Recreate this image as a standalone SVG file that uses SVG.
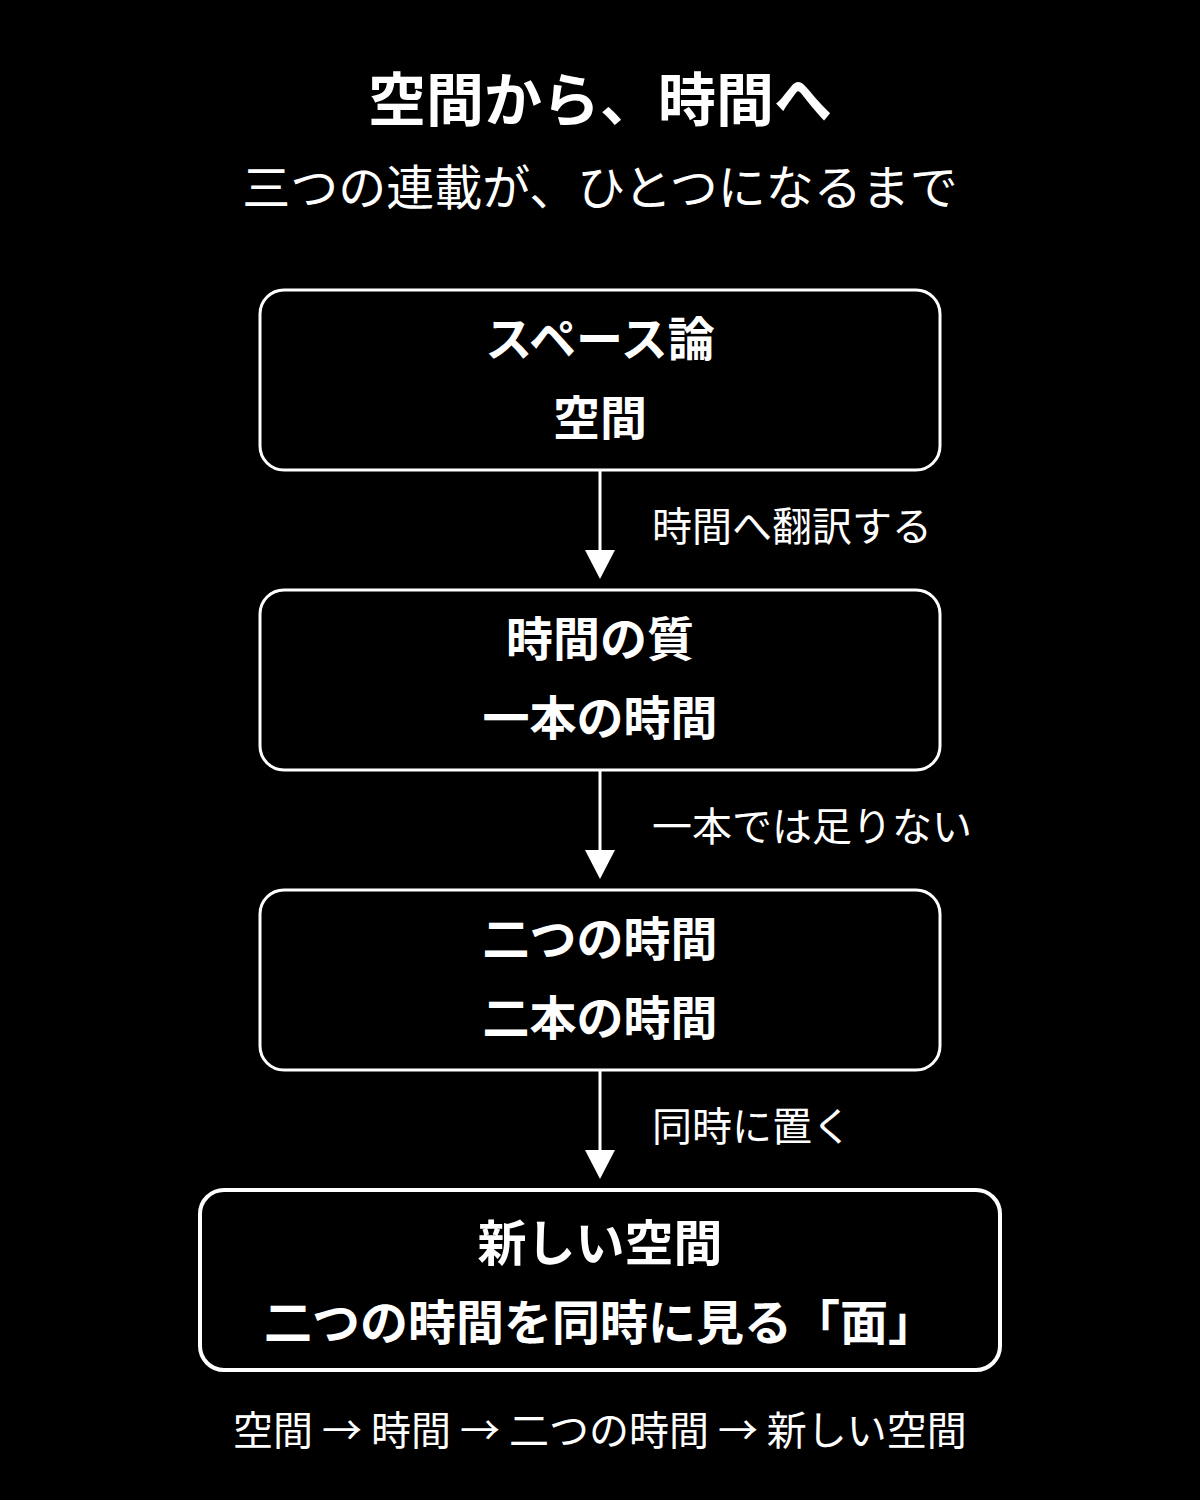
<svg xmlns="http://www.w3.org/2000/svg" width="1200" height="1500" viewBox="0 0 1200 1500">
<defs>
<style>
text{font-family:"Noto Sans CJK JP","Noto Sans CJK SC",sans-serif;fill:#fff;text-anchor:middle}
.t{font-size:58px;font-weight:700}
.s{font-size:48px;font-weight:400}
.n{font-size:47px;font-weight:700}
.nb{font-size:49px;font-weight:700}
.nb2{font-size:48px;font-weight:700}
.l{font-size:40px;font-weight:400;text-anchor:start}
.f{font-size:40px;font-weight:400}
.box{fill:#000;stroke:#fff;stroke-width:3}
.bigbox{fill:#000;stroke:#fff;stroke-width:4}
.c{stroke:#fff;stroke-width:3;fill:none}
.ah{fill:#fff}
</style>
</defs>
<rect width="1200" height="1500" fill="#000"/>
<text class="t" x="600" y="121">空間から、時間へ</text>
<text class="s" x="600" y="205">三つの連載が、ひとつになるまで</text>
<g id="connectors">
<line class="c" x1="600" y1="470" x2="600" y2="552"/>
<path class="ah" d="M585,550 L615,550 L600,579 Z"/>
<text class="l" x="652" y="541">時間へ翻訳する</text>
<line class="c" x1="600" y1="770" x2="600" y2="852"/>
<path class="ah" d="M585,850 L615,850 L600,879 Z"/>
<text class="l" x="652" y="841">一本では足りない</text>
<line class="c" x1="600" y1="1070" x2="600" y2="1152"/>
<path class="ah" d="M585,1150 L615,1150 L600,1179 Z"/>
<text class="l" x="652" y="1141">同時に置く</text>
</g>
<g id="node1">
<rect class="box" x="260" y="290" width="680" height="180" rx="24"/>
<text class="n" x="600" y="356">スペース論</text>
<text class="n" x="600" y="435">空間</text>
</g>
<g id="node2">
<rect class="box" x="260" y="590" width="680" height="180" rx="24"/>
<text class="n" x="600" y="656">時間の質</text>
<text class="n" x="600" y="735">一本の時間</text>
</g>
<g id="node3">
<rect class="box" x="260" y="890" width="680" height="180" rx="24"/>
<text class="n" x="600" y="956">二つの時間</text>
<text class="n" x="600" y="1035">二本の時間</text>
</g>
<g id="node4">
<rect class="bigbox" x="200" y="1190" width="800" height="180" rx="24"/>
<text class="nb" x="600" y="1261">新しい空間</text>
<text class="nb2" x="600" y="1340">二つの時間を同時に見る「面」</text>
</g>
<text class="f" x="600" y="1445">空間 → 時間 → 二つの時間 → 新しい空間</text>
</svg>
